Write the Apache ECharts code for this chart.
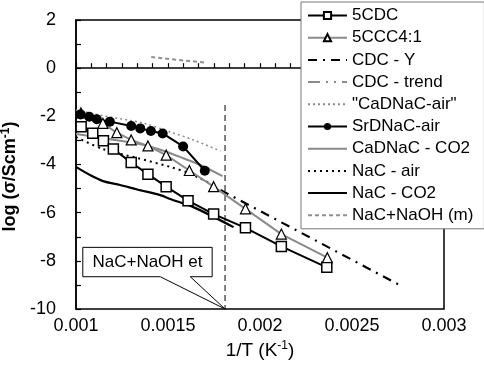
<!DOCTYPE html>
<html>
<head>
<meta charset="utf-8">
<script src="https://cdn.jsdelivr.net/npm/echarts@6/dist/echarts.min.js"></script>
<style>
  html, body { margin: 0; padding: 0; background: #fff; }
  #chart { width: 484px; height: 374px; }
</style>
</head>
<body>
<div id="chart"></div>
<script>
// values (x = 1/T in K^-1, y = log sigma)
const cdc5X = [0.001028, 0.001091, 0.001149, 0.001203, 0.0013, 0.001391, 0.00149, 0.001609, 0.001748, 0.001921, 0.002116, 0.002363];
const cdc5Y = [-2.43, -2.70, -3.01, -3.36, -3.92, -4.40, -4.92, -5.50, -6.06, -6.63, -7.40, -8.27];

const ccc5X = [0.001027, 0.001146, 0.001222, 0.0013, 0.001391, 0.00149, 0.001616, 0.001748, 0.001921, 0.002116, 0.002366];
const ccc5Y = [-1.86, -2.29, -2.68, -2.98, -3.23, -3.61, -4.25, -4.92, -5.84, -6.89, -7.87];

const cdcYX = [0.001785, 0.00277];
const cdcYY = [-5.06, -9.05];

const cdcTrendX = [];
const cdcTrendY = [];

const cadnacAirX = [0.001, 0.001185, 0.001365, 0.001512, 0.001638, 0.001785];
const cadnacAirY = [-1.74, -2.03, -2.28, -2.65, -2.98, -3.44];

const srdnacX = [0.001025, 0.001072, 0.001113, 0.001184, 0.0013, 0.001349, 0.001407, 0.001471, 0.001582, 0.0017];
const srdnacY = [-1.92, -2.02, -2.12, -2.22, -2.40, -2.50, -2.61, -2.71, -3.25, -4.26];

const cadnacCo2X = [0.001, 0.001147, 0.0013, 0.001392, 0.00149, 0.001583, 0.001676, 0.001796];
const cadnacCo2Y = [-2.73, -2.90, -3.09, -3.23, -3.47, -3.74, -4.02, -4.48];

const nacAirX = [0.001, 0.001147, 0.001332, 0.001512, 0.00161, 0.001747];
const nacAirY = [-2.86, -3.36, -3.73, -4.10, -4.35, -4.85];

const nacCo2X = [0.001, 0.001076, 0.001147, 0.00124, 0.001333, 0.001458, 0.001512, 0.001638, 0.001856];
const nacCo2Y = [-4.10, -4.44, -4.69, -4.85, -5.04, -5.27, -5.43, -5.77, -6.60];

const nacNaohX = [0.001409, 0.001556, 0.001703];
const nacNaohY = [0.46, 0.34, 0.235];

// vertical marker line and callout
const vLineX = [0.00181, 0.00181];
const vLineY = [-1.53, -10];
const calloutText = 'NaC+NaOH et';
const calloutBox = [[0.001037, -7.44], [0.00174, -8.66]];
const calloutBase = [0.001458, 0.001621];
const calloutTip = [0.00181, -10];

const legendNames = ['5CDC', '5CCC4:1', 'CDC - Y', 'CDC - trend', '"CaDNaC-air"', 'SrDNaC-air',
  'CaDNaC - CO2', 'NaC - air', 'NaC - CO2', 'NaC+NaOH (m)'];
const legendWithMarker = ['5CDC', '5CCC4:1', 'SrDNaC-air'];

const GRAY = '#8a8a8a';
const FONT = 'Liberation Sans, Arial, sans-serif';

function pairs(xs, ys) { return xs.map((x, i) => [x, ys[i]]); }

function lineSeries(name, xs, ys, color, width, type, extra) {
  return Object.assign({
    name: name,
    type: 'line',
    data: pairs(xs, ys),
    symbol: 'none',
    lineStyle: { color: color, width: width, type: type },
    itemStyle: { color: color },
    emphasis: { disabled: true },
    animation: false
  }, extra || {});
}

const chart = echarts.init(document.getElementById('chart'));

const option = {
  animation: false,
  grid: {
    left: 76, right: 40, top: 20, bottom: 65,
    outerBoundsMode: 'none',
    show: true, borderColor: '#000', borderWidth: 1.5
  },
  legend: {
    data: legendNames.map((n) => legendWithMarker.includes(n) ? { name: n } : { name: n, itemStyle: { opacity: 0 } }),
    orient: 'vertical',
    left: 301,
    top: 2,
    itemWidth: 39,
    itemHeight: 9,
    itemGap: 5.2,
    padding: [5, 11, 5, 6],
    backgroundColor: '#fff',
    borderColor: '#777',
    borderWidth: 1,
    borderRadius: 0,
    textStyle: { fontSize: 17, color: '#000', fontFamily: FONT }
  },
  xAxis: {
    type: 'value',
    min: 0.001,
    max: 0.003,
    interval: 0.0005,
    name: '1/T (K{sup|-1})',
    nameLocation: 'middle',
    nameGap: 31,
    nameTextStyle: {
      fontSize: 19, color: '#000', fontFamily: FONT,
      rich: { sup: { fontSize: 12, color: '#000', fontFamily: FONT, padding: [0, 0, 9, 0] } }
    },
    axisLine: { lineStyle: { color: '#000', width: 1.5 } },
    axisTick: { inside: true, length: 5, lineStyle: { color: '#000', width: 1.2 } },
    minorTick: { show: true, splitNumber: 6, length: 5, lineStyle: { color: '#000', width: 1.2 } },
    axisLabel: { fontSize: 18, color: '#000', fontFamily: FONT, margin: 8 },
    splitLine: { show: false },
    minorSplitLine: { show: false }
  },
  yAxis: {
    type: 'value',
    min: -10,
    max: 2,
    interval: 2,
    name: 'log (σ/Scm{sup|-1})',
    nameLocation: 'middle',
    nameGap: 48,
    nameTextStyle: {
      fontSize: 18, fontWeight: 'bold', color: '#000', fontFamily: FONT, padding: [0, 24, 0, 0],
      rich: { sup: { fontSize: 12, fontWeight: 'bold', color: '#000', fontFamily: FONT, padding: [0, 0, 9, 0] } }
    },
    axisLine: { show: true, lineStyle: { color: '#000', width: 1.5 } },
    axisTick: { inside: true, length: 5, lineStyle: { color: '#000', width: 1.2 } },
    minorTick: { show: true, splitNumber: 2, length: 5, lineStyle: { color: '#000', width: 1.2 } },
    axisLabel: { fontSize: 18, color: '#000', fontFamily: FONT, margin: 20 },
    splitLine: { show: false },
    minorSplitLine: { show: false }
  },
  series: [
    lineSeries('', vLineX, vLineY, '#000', 1, [6, 4], { z: 1 }),
    lineSeries('NaC - CO2', nacCo2X, nacCo2Y, '#000', 2.2, 'solid', { smooth: 0.3 }),
    lineSeries('NaC - air', nacAirX, nacAirY, '#000', 2, [2, 4], { smooth: 0.3 }),
    lineSeries('"CaDNaC-air"', cadnacAirX, cadnacAirY, GRAY, 1.5, [2, 3], { smooth: 0.3 }),
    lineSeries('CDC - Y', cdcYX, cdcYY, '#000', 2.2, [9, 6, 2, 6]),
    lineSeries('CDC - trend', cdcTrendX, cdcTrendY, GRAY, 2, [12, 6, 2, 6, 2, 6]),
    lineSeries('CaDNaC - CO2', cadnacCo2X, cadnacCo2Y, GRAY, 2, 'solid', { smooth: 0.3 }),
    lineSeries('NaC+NaOH (m)', nacNaohX, nacNaohY, '#909090', 2, [4, 3]),
    lineSeries('5CDC', cdc5X, cdc5Y, '#000', 2, 'solid', {
      symbol: 'rect', symbolSize: 10, showSymbol: true,
      itemStyle: { color: '#fff', borderColor: '#000', borderWidth: 1.5 }
    }),
    lineSeries('5CCC4:1', ccc5X, ccc5Y, GRAY, 2, 'solid', {
      symbol: 'triangle', symbolSize: 10, showSymbol: true,
      itemStyle: { color: '#fff', borderColor: '#000', borderWidth: 1.2 }
    }),
    lineSeries('SrDNaC-air', srdnacX, srdnacY, '#000', 2, 'solid', {
      symbol: 'circle', symbolSize: 10, showSymbol: true,
      itemStyle: { color: '#000' }
    })
  ]
};

chart.setOption(option);

// callout box with pointer, placed through the grid's coordinate system
const p = (v) => chart.convertToPixel({ gridIndex: 0 }, v);
const tl = p(calloutBox[0]);
const br = p(calloutBox[1]);
const bl = p([calloutBase[0], calloutBox[1][1]]);
const brr = p([calloutBase[1], calloutBox[1][1]]);
const tip = p(calloutTip);

chart.setOption({
  graphic: [
    {
      type: 'polygon',
      z: 50,
      shape: {
        points: [[tl[0], tl[1]], [br[0], tl[1]], [br[0], br[1]], [brr[0], br[1]], tip, [bl[0], br[1]], [tl[0], br[1]]]
      },
      style: { fill: '#fff', stroke: '#000', lineWidth: 1 }
    },
    {
      type: 'text',
      z: 51,
      x: (tl[0] + br[0]) / 2,
      y: (tl[1] + br[1]) / 2,
      style: {
        text: calloutText, fontSize: 17, fontFamily: FONT, fill: '#000',
        align: 'center', verticalAlign: 'middle'
      }
    }
  ]
});
</script>
</body>
</html>
